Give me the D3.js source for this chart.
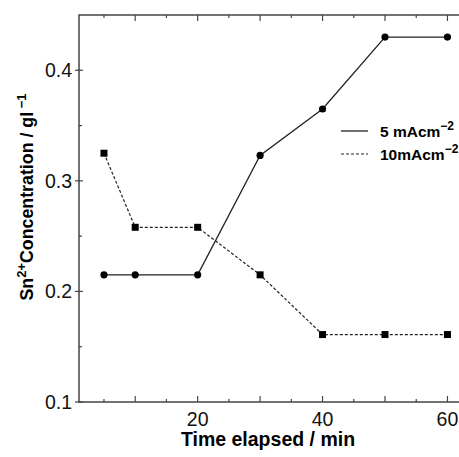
<!DOCTYPE html>
<html lang="en">
<head>
    <meta charset="UTF-8">
    <title>Sn concentration</title>
    <script src="https://cdn.jsdelivr.net/npm/d3@7"></script>
    <style>
        * { padding: 0; margin: 0; }
        body { background: #fff; }
        svg { display: block; font-family: "Liberation Sans", Arial, sans-serif; }
    </style>
</head>
<body>
    <div class="context"></div>
    <script>
        // data
        const times = [5, 10, 20, 30, 40, 50, 60];
        const conc5 = [0.215, 0.215, 0.215, 0.323, 0.365, 0.430, 0.430];   // 5 mAcm-2
        const conc10 = [0.325, 0.258, 0.258, 0.215, 0.161, 0.161, 0.161]; // 10 mAcm-2
        const xTickLabels = [20, 40, 60];
        const yTickLabels = [0.1, 0.2, 0.3, 0.4];

        const W = 459, H = 457;
        const padL = 79, padT = 15, padR = 459, padB = 402;
        const axisColor = "#444";

        const svg = d3.select(".context").append("svg")
            .attr("width", W).attr("height", H);

        // x axis cut off at the right edge, like the original
        const x = d3.scaleLinear().domain([1, 61.85]).range([padL, padR]);
        const y = d3.scaleLinear().domain([0.1, 0.45]).range([padB, padT]);

        // spines (no right one)
        svg.append("path")
            .attr("d", `M${padR},${padT}H${padL}V${padB}H${padR}`)
            .attr("fill", "none").attr("stroke", axisColor).attr("stroke-width", 1.5);

        // ticks, pointing inward
        const xMajor = d3.range(10, 61, 10), xMinor = d3.range(5, 61, 10);
        const yMajor = [0.1, 0.2, 0.3, 0.4], yMinor = [0.15, 0.25, 0.35];
        const tk = svg.append("g").attr("stroke", axisColor).attr("stroke-width", 1.2);
        xMajor.forEach(v => {
            tk.append("line").attr("x1", x(v)).attr("x2", x(v)).attr("y1", padB).attr("y2", padB - 6);
            tk.append("line").attr("x1", x(v)).attr("x2", x(v)).attr("y1", padT).attr("y2", padT + 6);
        });
        xMinor.forEach(v => {
            tk.append("line").attr("x1", x(v)).attr("x2", x(v)).attr("y1", padB).attr("y2", padB - 3);
            tk.append("line").attr("x1", x(v)).attr("x2", x(v)).attr("y1", padT).attr("y2", padT + 3);
        });
        yMajor.forEach(v => {
            tk.append("line").attr("x1", padL - 4).attr("x2", padL + 4).attr("y1", y(v)).attr("y2", y(v));
        });
        yMinor.forEach(v => {
            tk.append("line").attr("x1", padL).attr("x2", padL + 3).attr("y1", y(v)).attr("y2", y(v));
        });

        // tick labels
        svg.selectAll(".xl").data(xTickLabels).enter().append("text")
            .attr("x", d => x(d)).attr("y", padB + 23.5)
            .attr("text-anchor", "middle").attr("font-size", 19.5).attr("fill", "#111")
            .text(d => d);
        svg.selectAll(".yl").data(yTickLabels).enter().append("text")
            .attr("x", padL - 7).attr("y", d => y(d) + 7)
            .attr("text-anchor", "end").attr("font-size", 19.5).attr("fill", "#111")
            .text(d => d.toFixed(1));

        // axis titles
        svg.append("text")
            .attr("x", 268).attr("y", 446)
            .attr("text-anchor", "middle").attr("font-size", 19.5).attr("font-weight", "bold")
            .text("Time elapsed / min");

        const yt = svg.append("text")
            .attr("transform", "translate(33,197) rotate(-90)")
            .attr("text-anchor", "middle").attr("font-size", 17.8).attr("font-weight", "bold");
        yt.append("tspan").text("Sn");
        yt.append("tspan").attr("font-size", 13).attr("dy", -7).text("2+");
        yt.append("tspan").attr("dy", 7).text("Concentration / gl");
        yt.append("tspan").attr("font-size", 13).attr("dy", -7).text(" \u22121");

        // lines
        const line = d3.line().x(d => x(d[0])).y(d => y(d[1]));
        const s5 = times.map((t, i) => [t, conc5[i]]);
        const s10 = times.map((t, i) => [t, conc10[i]]);

        svg.append("path").datum(s10).attr("d", line)
            .attr("fill", "none").attr("stroke", "#222").attr("stroke-width", 1.2)
            .attr("stroke-dasharray", "3,2");
        svg.append("path").datum(s5).attr("d", line)
            .attr("fill", "none").attr("stroke", "#222").attr("stroke-width", 1.3);

        svg.selectAll(".sq").data(s10).enter().append("rect")
            .attr("x", d => x(d[0]) - 3.5).attr("y", d => y(d[1]) - 3.5)
            .attr("width", 7).attr("height", 7).attr("fill", "#000");
        svg.selectAll(".dot").data(s5).enter().append("circle")
            .attr("cx", d => x(d[0])).attr("cy", d => y(d[1])).attr("r", 3.6)
            .attr("fill", "#000");

        // legend
        const lg = svg.append("g");
        lg.append("line").attr("x1", 341).attr("x2", 368).attr("y1", 131).attr("y2", 131)
            .attr("stroke", "#222").attr("stroke-width", 1.3);
        lg.append("line").attr("x1", 341).attr("x2", 368).attr("y1", 154).attr("y2", 154)
            .attr("stroke", "#222").attr("stroke-width", 1.2).attr("stroke-dasharray", "3,2");
        const l1 = lg.append("text").attr("x", 380).attr("y", 137)
            .attr("font-size", 15.5).attr("font-weight", "bold");
        l1.append("tspan").text("5 mAcm");
        l1.append("tspan").attr("font-size", 12).attr("dy", -7).text("\u22122");
        const l2 = lg.append("text").attr("x", 380).attr("y", 160)
            .attr("font-size", 15.5).attr("font-weight", "bold");
        l2.append("tspan").text("10mAcm");
        l2.append("tspan").attr("font-size", 12).attr("dy", -7).text("\u22122");
    </script>
</body>
</html>
